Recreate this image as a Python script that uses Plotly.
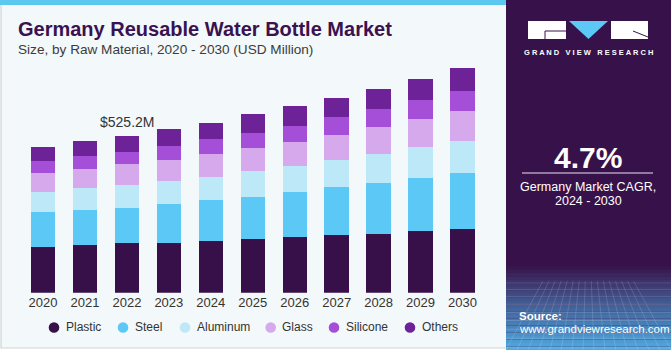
import plotly.graph_objects as go
import numpy as np

years = ["2020", "2021", "2022", "2023", "2024", "2025", "2026", "2027", "2028", "2029", "2030"]
plastic = [154, 161, 166, 168, 173, 179, 186, 192, 197, 206, 213]
steel = [115, 116, 119, 131, 137, 143, 152, 162, 172, 178, 188]
aluminum = [68, 74, 77, 77, 78, 87, 88, 92, 97, 105, 107]
glass = [65, 65, 69, 69, 77, 76, 80, 84, 91, 94, 102]
silicone = [39, 43, 40, 48, 49, 50, 54, 59, 59, 64, 65]
others = [48, 50, 54, 56, 54, 63, 65, 63, 66, 70, 77]

series_names = ["Plastic", "Steel", "Aluminum", "Glass", "Silicone", "Others"]
series_vals = [plastic, steel, aluminum, glass, silicone, others]
colors = ["#37104A", "#5BC8F5", "#BCE8F8", "#D6A9EC", "#A54FD9", "#6E2297"]

W, H = 671, 350
def px(x):
    return x / W
def py(y):
    return 1 - y / H

FONT = "Liberation Sans, Arial, sans-serif"

fig = go.Figure()
for name, vals, c in zip(series_names, series_vals, colors):
    fig.add_trace(go.Bar(x=years, y=vals, name=name, marker=dict(color=c, line=dict(width=0)),
                         showlegend=False, hoverinfo="skip"))

shapes = []
ann = []
def A(text, x, y, size, color, xanchor="left"):
    ann.append(dict(text=text, x=px(x), y=py(y), xref="paper", yref="paper", showarrow=False,
                    xanchor=xanchor, yanchor="middle", font=dict(size=size, color=color, family=FONT)))

# left panel
shapes.append(dict(type="rect", xref="paper", yref="paper", x0=px(1), x1=px(520), y0=py(348), y1=py(0),
                   fillcolor="#F3F8FB", line=dict(color="#D0D3D6", width=1.2), layer="below"))
shapes.append(dict(type="rect", xref="paper", yref="paper", x0=px(0), x1=px(506), y0=py(5), y1=py(0),
                   fillcolor="#5BC8F0", line=dict(width=0), layer="below"))
# right panel
shapes.append(dict(type="rect", xref="paper", yref="paper", x0=px(506), x1=px(671), y0=py(350), y1=py(0),
                   fillcolor="#37124A", line=dict(width=0), layer="below"))
n = 24
top, bot = 266, 350
c0 = np.array([0x37, 0x12, 0x4A]); c1 = np.array([0x50, 0xAA, 0xE2])
for i in range(n):
    y0 = top + (bot - top) * i / n
    y1 = top + (bot - top) * (i + 1) / n
    t = ((i + 0.5) / n) ** 0.9
    col = (c0 * (1 - t) + c1 * t).astype(int)
    shapes.append(dict(type="rect", xref="paper", yref="paper", x0=px(506), x1=px(671), y0=py(y1), y1=py(y0),
                       fillcolor="rgb(%d,%d,%d)" % tuple(col), line=dict(width=0), layer="below"))
for k in range(10):
    yy = 283 + k * 6.5 + k * k * 0.2
    shapes.append(dict(type="line", xref="paper", yref="paper", x0=px(506), x1=px(671), y0=py(yy), y1=py(yy),
                       line=dict(color="rgba(255,255,255,0.16)", width=1), layer="below"))
for k in range(16):
    xx = 506 + k * 11
    shapes.append(dict(type="line", xref="paper", yref="paper", x0=px(588 + (xx - 588) * 0.55), x1=px(xx), y0=py(281), y1=py(350),
                       line=dict(color="rgba(255,255,255,0.14)", width=1), layer="below"))
# logo
shapes.append(dict(type="rect", xref="paper", yref="paper", x0=px(528), x1=px(566), y0=py(39), y1=py(21),
                   fillcolor="white", line=dict(width=0)))
shapes.append(dict(type="path", path="M %f,%f L %f,%f L %f,%f Z" % (px(569), py(21), px(608), py(21), px(588.5), py(39)),
                   xref="paper", yref="paper", fillcolor="#5BC8F5", line=dict(width=0)))
shapes.append(dict(type="rect", xref="paper", yref="paper", x0=px(611), x1=px(648), y0=py(39), y1=py(21),
                   fillcolor="white", line=dict(width=0)))
shapes.append(dict(type="line", xref="paper", yref="paper", x0=px(545), x1=px(566), y0=py(31), y1=py(31),
                   line=dict(color="#37124A", width=1)))
shapes.append(dict(type="line", xref="paper", yref="paper", x0=px(545), x1=px(545), y0=py(31), y1=py(39),
                   line=dict(color="#37124A", width=1)))
shapes.append(dict(type="line", xref="paper", yref="paper", x0=px(633), x1=px(648), y0=py(31), y1=py(37),
                   line=dict(color="#37124A", width=1)))
shapes.append(dict(type="line", xref="paper", yref="paper", x0=px(522), x1=px(653), y0=py(173), y1=py(173),
                   line=dict(color="#E8E0EE", width=1)))

# legend (circles + labels)
legend_x = [54, 123, 185, 270.7, 334, 410]
for lx, name, c in zip(legend_x, series_names, colors):
    r = 5.3
    shapes.append(dict(type="circle", xref="paper", yref="paper", x0=px(lx - r), x1=px(lx + r),
                       y0=py(327.5 + r), y1=py(327.5 - r), fillcolor=c, line=dict(width=0)))
    A(name, lx + 9.5, 327, 12, "#333333")

A("<b>Germany Reusable Water Bottle Market</b>", 16, 29, 20, "#3A1250")
A("Size, by Raw Material, 2020 - 2030 (USD Million)", 16, 50, 13.6, "#3C3C3C")
A("$525.2M", 127, 122, 14, "#333333", xanchor="center")
A("<b>G R A N D   V I E W   R E S E A R C H</b>", 588, 52, 7.5, "white", xanchor="center")
A("<b>4.7%</b>", 588, 157, 30, "white", xanchor="center")
A("Germany Market CAGR,", 588, 187, 12.5, "white", xanchor="center")
A("2024 - 2030", 588, 201, 12.5, "white", xanchor="center")
A("<b>Source:</b>", 517, 316, 11.5, "white")
A("www.grandviewresearch.com", 517, 329, 11.5, "white")

fig.update_layout(
    width=W, height=H, barmode="stack", bargap=0.42,
    margin=dict(l=0, r=0, t=0, b=0),
    paper_bgcolor="#FFFFFF", plot_bgcolor="rgba(0,0,0,0)",
    font=dict(family=FONT, color="#333333"),
    xaxis=dict(domain=[px(22), px(483.5)], showgrid=False, showline=False, zeroline=False,
               tickfont=dict(size=13, color="#333333"), ticks="", fixedrange=True),
    yaxis=dict(domain=[py(292.7), py(60)], range=[0, 780], visible=False, fixedrange=True),
    shapes=shapes, annotations=ann, showlegend=False,
)
fig.write_html("out.html")
